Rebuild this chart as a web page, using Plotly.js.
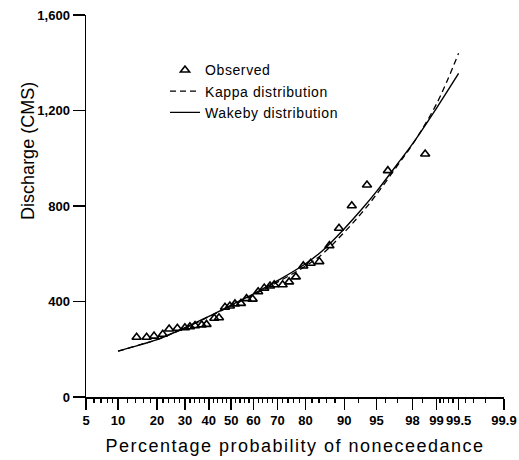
<!DOCTYPE html>
<html><head><meta charset="utf-8">
<script src="https://cdn.plot.ly/plotly-3.0.1.min.js"></script>
<style>html,body{margin:0;padding:0;background:#fff}#chart{width:519px;height:460px}</style>
</head><body><div id="chart"></div>
<script>
// Observed data (plotting position in %, discharge in CMS)
const obsProb = [14.2,16.9,19.1,21.9,24.1,27.1,30.0,32.0,34.1,36.9,39.0,42.4,44.5,47.2,49.4,51.7,54.4,56.9,59.6,62.0,64.6,67.0,68.7,72.0,74.4,76.8,79.3,81.6,84.1,86.7,88.9,91.4,93.8,96.2,98.6];
const obsQ    = [250,250,255,263,285,288,290,294,299,302,304,330,332,376,381,390,392,412,410,441,456,465,470,470,482,503,549,560,567,634,707,801,888,948,1018];

// Fitted distributions
const curveProb = [10,15,20,30,40,50,60,70,80,85,90,93,95,97,98,99,99.5];
const wakebyQ   = [192,218,240,290,338,385,432,487,558,614,705,785,860,975,1060,1210,1355];
const kappaQ    = [192,218,240,289,336,382,428,481,548,600,690,770,848,968,1058,1228,1440];

// Axis ticks
const tickProb = [5,10,20,30,40,50,60,70,80,90,95,98,99,99.5,99.9];
const tickText = ['5','10','20','30','40','50','60','70','80','90','95','98','99','99.5','99.9'];
const minorProb = [6,7,8,9,12,14,16,18,22,24,26,28,32,34,36,38,42,44,46,48,52,54,56,58,62,64,66,68,72,74,76,78,82,84,86,88,92.5,96,97,98.5,99.1,99.2,99.3,99.4,99.6,99.7,99.8];
const yTicks = [0,400,800,1200,1600];
const yTickText = ['0','400','800','1,200','1,600'];

// Normal probability scale (inverse standard normal CDF, Acklam)
function probit(pct){
  const p = pct/100;
  const a=[-3.969683028665376e+01,2.209460984245205e+02,-2.759285104469687e+02,1.383577518672690e+02,-3.066479806614716e+01,2.506628277459239e+00];
  const b=[-5.447609879822406e+01,1.615858368580409e+02,-1.556989798598866e+02,6.680131188771972e+01,-1.328068155288572e+01];
  const c=[-7.784894002430293e-03,-3.223964580411365e-01,-2.400758277161838e+00,-2.549732539343734e+00,4.374664141464968e+00,2.938163982698783e+00];
  const d=[7.784695709041462e-03,3.224671290700398e-01,2.445134137142996e+00,3.754408661907416e+00];
  const pl=0.02425, ph=1-pl;
  let q,r;
  if(p<pl){q=Math.sqrt(-2*Math.log(p));return (((((c[0]*q+c[1])*q+c[2])*q+c[3])*q+c[4])*q+c[5])/((((d[0]*q+d[1])*q+d[2])*q+d[3])*q+1);}
  if(p<=ph){q=p-0.5;r=q*q;return (((((a[0]*r+a[1])*r+a[2])*r+a[3])*r+a[4])*r+a[5])*q/(((((b[0]*r+b[1])*r+b[2])*r+b[3])*r+b[4])*r+1);}
  q=Math.sqrt(-2*Math.log(1-p));return -(((((c[0]*q+c[1])*q+c[2])*q+c[3])*q+c[4])*q+c[5])/((((d[0]*q+d[1])*q+d[2])*q+d[3])*q+1);
}

const F = 'Arial, "Liberation Sans", Helvetica, sans-serif';
const xRange = [probit(5) - 1e-6, probit(99.9) + 1e-6];
const sp = s => '<span style="letter-spacing:0.6px">' + s + '</span>';

const traces = [
  {x: obsProb.map(probit), y: obsQ, type:'scatter', mode:'markers', name:sp('Observed'),
   marker:{symbol:'triangle-up-open', size:8, color:'#000', line:{width:1.6, color:'#000'}}},
  {x: curveProb.map(probit), y: kappaQ, type:'scatter', mode:'lines', name:sp('Kappa distribution'),
   line:{color:'#000', width:1.3, dash:'6px,4px', shape:'spline', smoothing:1}},
  // Wakeby curve drawn on the overlaying axis that carries the minor ticks (same range)
  {x: curveProb.map(probit), y: wakebyQ, type:'scatter', mode:'lines', name:sp('Wakeby distribution'),
   xaxis:'x2', yaxis:'y',
   line:{color:'#000', width:1.4, shape:'spline', smoothing:1}}
];

const layout = {
  width:519, height:460,
  margin:{l:86, r:15, t:15, b:63},
  paper_bgcolor:'#fff', plot_bgcolor:'#fff',
  font:{family:F, color:'#000'},
  showlegend:true,
  legend:{x:0.189, y:0.897, xanchor:'left', yanchor:'top', bgcolor:'rgba(0,0,0,0)',
          font:{family:F, size:14, color:'#000'}, tracegroupgap:0},
  xaxis:{
    range:xRange,
    tickmode:'array', tickvals: tickProb.map(probit), ticktext: tickText,
    ticks:'outside', ticklen:11, tickwidth:1.6, tickcolor:'#000',
    showline:true, linecolor:'#000', linewidth:1.5,
    showgrid:false, zeroline:false,
    tickfont:{family:F, size:13, weight:'bold', color:'#000'},
    title:{text:'<span style="letter-spacing:1.5px">Percentage probability of noneceedance</span>', font:{family:F, size:18, color:'#000'}, standoff:12}
  },
  xaxis2:{
    range:xRange, overlaying:'x', anchor:'y', side:'bottom',
    tickmode:'array', tickvals: minorProb.map(probit), ticktext: minorProb.map(()=>''),
    ticks:'outside', ticklen:5, tickwidth:1.2, tickcolor:'#000',
    showticklabels:false, showline:false, showgrid:false, zeroline:false
  },
  yaxis:{
    range:[0,1600],
    tickmode:'array', tickvals:yTicks, ticktext:yTickText,
    ticks:'outside', ticklen:12, tickwidth:1.5, tickcolor:'#000',
    showline:true, linecolor:'#000', linewidth:1.5,
    showgrid:false, zeroline:false,
    tickfont:{family:F, size:13, weight:'bold', color:'#000'}
  },
  annotations:[{
    text:'Discharge (CMS)', textangle:-90, xref:'paper', yref:'paper',
    x:-0.139, y:0.644, xanchor:'center', yanchor:'middle', showarrow:false,
    font:{family:F, size:18, color:'#000'}
  }]
};

Plotly.newPlot('chart', traces, layout, {staticPlot:true, displayModeBar:false});
</script>
</body></html>
